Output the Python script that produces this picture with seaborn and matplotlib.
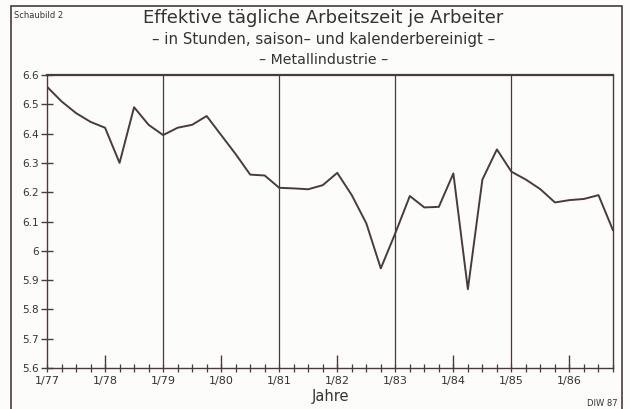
import numpy as np
import pandas as pd
import seaborn as sns
import matplotlib.pyplot as plt
from matplotlib.patches import Rectangle

# quarterly values 1/77 .. 4/86, hours per day
quarters = list(range(40))
hours = [6.56, 6.51, 6.47, 6.44, 6.42, 6.30, 6.49, 6.43,
         6.395, 6.42, 6.43, 6.46, 6.395, 6.33, 6.26, 6.257,
         6.215, 6.213, 6.21, 6.224, 6.266, 6.19, 6.094, 5.94,
         6.06, 6.187, 6.148, 6.15, 6.264, 5.869, 6.243, 6.346,
         6.27, 6.243, 6.21, 6.165, 6.173, 6.177, 6.19, 6.07]
year_labels = ["1/77", "1/78", "1/79", "1/80", "1/81",
               "1/82", "1/83", "1/84", "1/85", "1/86"]
y_values = [5.6, 5.7, 5.8, 5.9, 6.0, 6.1, 6.2, 6.3, 6.4, 6.5, 6.6]
y_labels = ["5.6", "5.7", "5.8", "5.9", "6", "6.1", "6.2", "6.3", "6.4", "6.5", "6.6"]

df = pd.DataFrame({"Quartal": quarters, "Stunden": hours})

ink = "#4a3b3b"
sns.set_style("ticks")
plt.rcParams["font.family"] = ["DejaVu Sans"]

fig = plt.figure(figsize=(6.3, 4.09), dpi=100)
fig.patch.set_facecolor("#fcfcfa")
ax = fig.add_axes([47/630, 41/409, 566/630, 293/409])
ax.set_facecolor("#fcfcfa")

sns.lineplot(data=df, x="Quartal", y="Stunden", color=ink, linewidth=1.4, ax=ax)

ax.set_xlim(0, 39)
ax.set_ylim(5.6, 6.6)

year_pos = quarters[::4]
ax.set_xticks(year_pos)
ax.set_xticklabels(year_labels, fontsize=8, color="#333")
ax.set_xticks(quarters, minor=True)
ax.set_yticks(y_values)
ax.set_yticklabels(y_labels, fontsize=7.5, color="#333")
ax.tick_params(axis="x", which="both", direction="inout", length=6,
               width=0.9, color=ink, pad=3, bottom=True, top=False)
ax.tick_params(axis="y", which="major", direction="inout", length=8,
               width=1.0, color=ink, pad=2, left=True, right=False)

# full lines at odd years, tall ticks at even years
for i, p in enumerate(year_pos):
    if i % 2 == 0 and p > 0:
        ax.axvline(p, color=ink, linewidth=0.9)
    elif i % 2 == 1:
        ax.vlines(p, 5.6, 5.645, color=ink, linewidth=1.0)

for s in ax.spines.values():
    s.set_visible(True)
    s.set_color(ink)
    s.set_linewidth(1.0)
ax.spines["top"].set_linewidth(1.6)

ax.set_xlabel("Jahre", fontsize=10.5, color="#333", labelpad=2)
ax.set_ylabel("")

fig.text(0.513, 0.955, "Effektive tägliche Arbeitszeit je Arbeiter",
         ha="center", va="center", fontsize=13, color="#333")
fig.text(0.513, 0.903, "– in Stunden, saison– und kalenderbereinigt –",
         ha="center", va="center", fontsize=10.8, color="#333")
fig.text(0.513, 0.853, "– Metallindustrie –",
         ha="center", va="center", fontsize=10.2, color="#333")
fig.text(14/630, 1 - 15/409, "Schaubild 2", ha="left", va="center",
         fontsize=6, color="#333")
fig.text(618/630, 1 - 403/409, "DIW 87", ha="right", va="center",
         fontsize=6, color="#333")

fig.add_artist(Rectangle((11/630, -0.02), 611/630, 1.02 - 6/409,
                         transform=fig.transFigure, fill=False,
                         edgecolor=ink, linewidth=1.2))

fig.savefig("out.png", dpi=100, facecolor=fig.get_facecolor())
